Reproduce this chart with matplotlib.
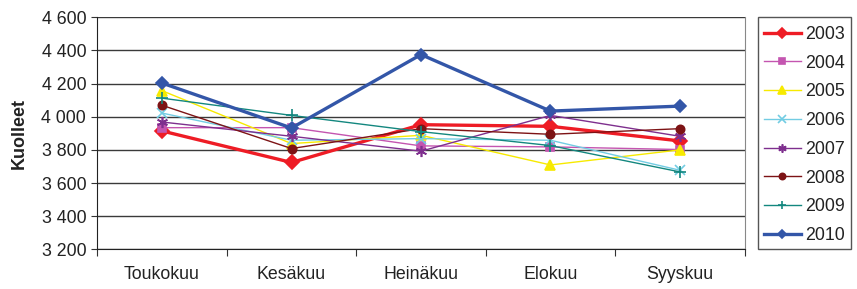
import matplotlib
matplotlib.use('Agg')
import matplotlib.pyplot as plt
from matplotlib.patches import Rectangle
from matplotlib.ticker import FuncFormatter

plt.rcParams['font.family'] = ['Liberation Sans', 'DejaVu Sans']

months = ['Toukokuu', 'Kesäkuu', 'Heinäkuu', 'Elokuu', 'Syyskuu']
years = ['2003', '2004', '2005', '2006', '2007', '2008', '2009', '2010']

# deaths per month
d2003 = [3914, 3724, 3952, 3942, 3854]
d2004 = [3934, 3934, 3824, 3818, 3802]
d2005 = [4157, 3838, 3888, 3709, 3800]
d2006 = [4022, 3858, 3868, 3858, 3677]
d2007 = [3968, 3882, 3792, 4008, 3882]
d2008 = [4069, 3808, 3928, 3894, 3928]
d2009 = [4112, 4008, 3910, 3826, 3667]
d2010 = [4203, 3932, 4375, 4034, 4064]
series = [d2003, d2004, d2005, d2006, d2007, d2008, d2009, d2010]

colors = ['#EE1C25', '#C455B0', '#F7EA00', '#72CCE3', '#7E2F8E', '#7D1315', '#13877F', '#3356A8']
markers = ['D', 's', '^', 'x', (6, 2, 0), 'o', '+', 'D']
widths = [2.4, 1, 1, 1, 1, 1, 1, 2.4]
msizes = [7, 6, 7, 7, 8, 6, 8, 6]

W, H = 857, 289
fig = plt.figure(figsize=(W / 100, H / 100), dpi=100)
ax = fig.add_axes([97.3 / W, 1 - 249.3 / H, 647.4 / W, 232 / H])

x = list(range(len(months)))
for vals, yr, c, m, lw, ms in zip(series, years, colors, markers, widths, msizes):
    ax.plot(x, vals, color=c, lw=lw, marker=m, markersize=ms,
            markerfacecolor=c, markeredgecolor=c, markeredgewidth=1.2, label=yr)

ax.set_xlim(-0.5, 4.5)
ax.set_ylim(3200, 4600)
ax.set_yticks(range(3200, 4601, 200))
ax.yaxis.set_major_formatter(FuncFormatter(lambda v, p: '{:,}'.format(int(v)).replace(',', ' ')))
ax.grid(axis='y', color='#3a3a3a', lw=1)
ax.set_axisbelow(True)

ax.set_xticks([i - 0.5 for i in range(len(months) + 1)])
ax.set_xticklabels([])
ax.set_xticks(x, minor=True)
ax.set_xticklabels(months, minor=True)
ax.tick_params(axis='x', which='major', length=5, color='#333333', direction='out')
ax.tick_params(axis='x', which='minor', length=0, pad=12, labelsize=12.8, labelcolor='#222222')
ax.tick_params(axis='y', length=4, pad=4, labelsize=12.8, labelcolor='#222222', color='#333333')

for s in ['left', 'bottom']:
    ax.spines[s].set_color('#222222')
ax.spines['top'].set_visible(False)
ax.spines['right'].set_color('#888888')

ax.set_ylabel('Kuolleet', fontsize=13, fontweight='bold', color='#222222', labelpad=10)

# legend entries without frame, box drawn separately to match the original size
leg = fig.legend(loc='upper left', bbox_to_anchor=(758.3 / W, 1 - 20.5 / H),
                 fontsize=12.8, frameon=False, markerscale=0.75,
                 handlelength=2.1, handletextpad=0.25, labelspacing=0.66,
                 borderpad=0.3, borderaxespad=0)
for t in leg.get_texts():
    t.set_color('#222222')
fig.patches.append(Rectangle((758.3 / W, 1 - 249.3 / H), 92.4 / W, 232 / H,
                             transform=fig.transFigure, fill=False,
                             edgecolor='#555555', lw=1))

fig.savefig('out.png', dpi=100)
